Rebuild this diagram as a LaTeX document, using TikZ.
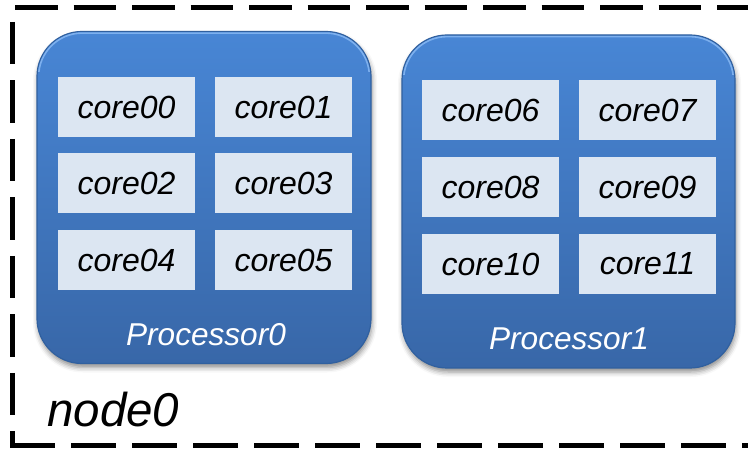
\documentclass[tikz,border=0pt]{standalone}
\usepackage{fontspec}
\setmainfont{Liberation Sans}
\usetikzlibrary{shadows.blur}

\definecolor{procTop}{HTML}{4886D5}
\definecolor{procBot}{HTML}{3867A8}
\definecolor{procEdge}{HTML}{30609F}
\definecolor{procRim}{HTML}{7DB0EE}
\definecolor{coreFill}{HTML}{DCE6F2}

\tikzset{
  procbox/.style={
    rounded corners=45pt, minimum width=334pt, minimum height=332pt,
    top color=procTop, bottom color=procBot, draw=procEdge, line width=1.2pt,
    blur shadow={shadow xshift=1pt, shadow yshift=-4pt,
                 shadow blur radius=5pt, shadow opacity=45},
    inner sep=0pt, outer sep=0pt},
  rimline/.style={draw=procRim, line width=1.6pt, rounded corners=43.5pt},
  corebox/.style={
    fill=coreFill, draw=none, minimum width=137pt, minimum height=60pt,
    inner sep=0pt, font=\fontsize{32}{38}\selectfont\itshape},
  proclabel/.style={text=white, inner sep=0pt,
    font=\fontsize{31.6}{38}\selectfont\itshape},
  frameline/.style={line width=5pt, dash pattern=on 42.5pt off 16pt},
}

% light bevel along the upper edge of a processor box
\newcommand{\toprim}[1]{%
  \begin{scope}
    \clip ([xshift=-5pt,yshift=5pt]#1.north west) rectangle ([xshift=5pt,yshift=-40pt]#1.north east);
    \draw[rimline] ([shift={(1.6pt,-1.6pt)}]#1.north west)
       rectangle ([shift={(-1.6pt,1.6pt)}]#1.south east);
  \end{scope}}

\begin{document}
\begin{tikzpicture}[x=1pt, y=-1pt]
  \useasboundingbox (0,0) rectangle (748,449);

  % dashed frame of the compute node (open on the right)
  \coordinate (tl) at (12.5,22);
  \coordinate (bl) at (12.5,445.5);
  \coordinate (bl2) at (10,445.5);
  \coordinate (br) at (770,445.5);
  \coordinate (tt) at (15,7.5);
  \coordinate (tr) at (770,7.5);
  \draw[frameline] (tt) -- (tr);
  \draw[frameline] (tl) -- (bl);
  \draw[frameline, dash pattern=on 45pt off 16pt] (bl2) -- (br);

  % processors
  \node[procbox] (p0) at (204,197.5) {};
  \node[procbox, minimum width=333pt, minimum height=333pt] (p1) at (568.5,201.5) {};
  \toprim{p0}
  \toprim{p1}

  % cores of processor 0
  \node[corebox] (c00) at (126.5,107) {core00};
  \node[corebox] (c01) at (283.5,107) {core01};
  \node[corebox] (c02) at (126.5,183) {core02};
  \node[corebox] (c03) at (283.5,183) {core03};
  \node[corebox] (c04) at (126.5,260.5) {core04};
  \node[corebox] (c05) at (283.5,260.5) {core05};

  % cores of processor 1
  \node[corebox] (c06) at (490.5,110.5) {core06};
  \node[corebox] (c07) at (647.5,110.5) {core07};
  \node[corebox] (c08) at (490.5,187) {core08};
  \node[corebox] (c09) at (647.5,187) {core09};
  \node[corebox] (c10) at (490.5,264) {core10};
  \node[corebox] (c11) at (647.5,264) {core11};

  % labels
  \node[proclabel] (l0) at (206,335) {Processor0};
  \node[proclabel] (l1) at (569,338.5) {Processor1};
  \node[anchor=base west, inner sep=0pt,
        font=\fontsize{47.5}{56}\selectfont\itshape] (n0) at (47,427) {node0};
\end{tikzpicture}
\end{document}
